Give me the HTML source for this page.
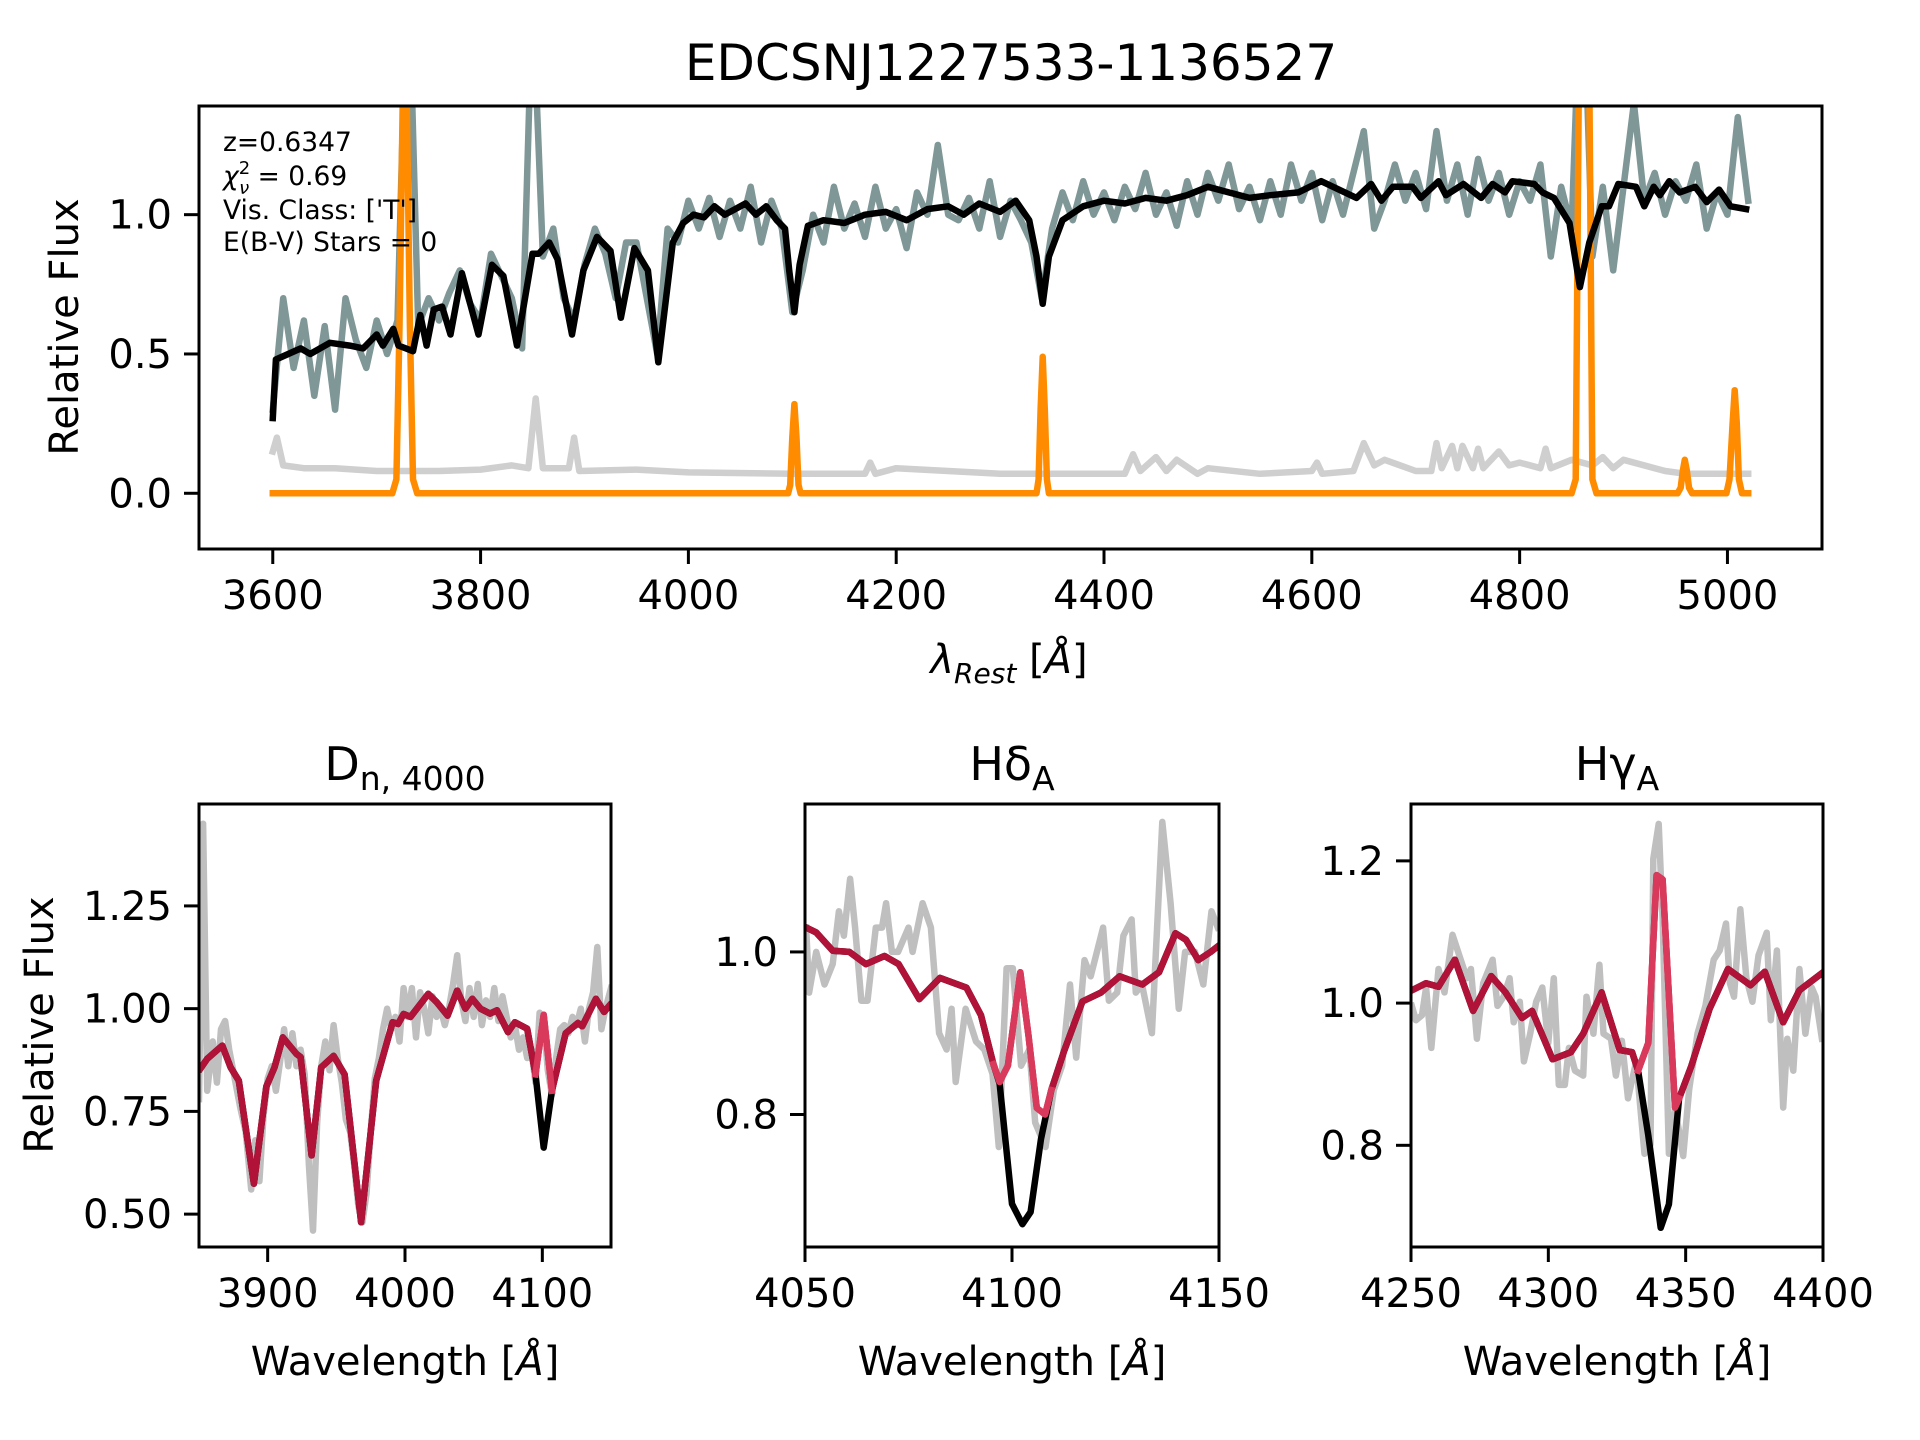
<!DOCTYPE html>
<html><head><meta charset="utf-8"><style>
html,body{margin:0;padding:0;background:#fff;}
svg{display:block;font-family:"DejaVu Sans","Liberation Sans",sans-serif;}
</style></head><body>
<svg id="fig" xmlns="http://www.w3.org/2000/svg" width="1920" height="1440" viewBox="0 0 1920 1440">
<rect width="1920" height="1440" fill="#fff"/>
<text x="1011" y="80" font-size="50" text-anchor="middle">EDCSNJ1227533-1136527</text>
</svg>
<script>
// ---------- TOP PANEL DATA ----------
const topObsStart = 3600, topObsStep = 10;
const topObsFlux = [0.30,0.70,0.45,0.62,0.35,0.60,0.30,0.70,0.55,0.45,0.62,0.50,0.62,2.0,0.60,0.70,0.62,0.72,0.80,0.68,
0.62,0.86,0.78,0.70,0.52,1.8,0.85,0.95,0.70,0.62,0.82,0.95,0.86,0.70,0.90,0.90,0.70,0.50,0.95,0.90,
1.05,0.95,1.06,0.92,1.05,0.95,1.10,0.90,1.05,0.95,0.65,0.80,1.00,0.90,1.10,0.95,1.04,0.92,1.10,0.95,
1.02,0.88,1.08,1.0,1.25,1.0,0.98,1.06,0.95,1.12,0.92,1.05,0.98,0.90,0.70,0.95,1.08,0.98,1.12,1.0,
1.08,0.98,1.10,1.02,1.15,1.0,1.08,0.96,1.12,1.0,1.15,1.05,1.18,1.02,1.10,0.98,1.12,1.0,1.18,1.05,
1.15,0.98,1.12,1.0,1.15,1.30,0.95,1.05,1.18,1.05,1.15,1.02,1.30,1.05,1.18,1.0,1.20,1.05,1.15,1.0,
1.12,1.05,1.18,0.85,1.10,0.95,2.0,0.85,1.10,0.80,1.10,1.40,1.05,1.15,1.0,1.12,1.05,1.18,0.95,1.08,
1.0,1.35,1.05];
const topModelWl = [3600,3603,3627,3636,3655,3674,3687,3700,3706,3716,3721,3728,3735,3742,3748,3755,3763,3771,3782,3798,3811,3822,3835,3850,3856,3866,3874,3888,3899,3912,3925,3935,3948,3961,3971,3985,3995,4005,4015,4025,4035,4045,4055,4065,4075,4085,4093,4097,4102,4107,4115,4130,4150,4170,4190,4210,4230,4250,4265,4280,4300,4315,4328,4335,4341,4347,4360,4380,4400,4420,4440,4460,4480,4500,4520,4540,4560,4587,4609,4643,4657,4667,4678,4697,4705,4722,4729,4746,4763,4774,4786,4793,4814,4822,4833,4848,4858,4867,4879,4886,4895,4912,4920,4929,4935,4944,4954,4969,4980,4992,5003,5018];
const topModelFlux = [0.27,0.48,0.52,0.50,0.54,0.53,0.52,0.57,0.53,0.59,0.53,0.52,0.51,0.64,0.53,0.66,0.67,0.57,0.79,0.57,0.82,0.78,0.53,0.86,0.86,0.90,0.84,0.57,0.80,0.92,0.87,0.63,0.88,0.80,0.47,0.90,0.97,1.00,0.99,1.03,1.00,1.02,1.04,1.00,1.03,0.98,0.95,0.80,0.65,0.82,0.96,0.98,0.97,1.00,1.01,0.98,1.02,1.03,1.00,1.04,1.01,1.05,0.98,0.85,0.68,0.85,0.98,1.03,1.05,1.04,1.06,1.05,1.07,1.10,1.08,1.06,1.07,1.08,1.12,1.06,1.11,1.05,1.10,1.10,1.06,1.12,1.07,1.11,1.06,1.11,1.08,1.12,1.11,1.08,1.06,0.97,0.74,0.90,1.03,1.03,1.11,1.10,1.03,1.10,1.07,1.12,1.08,1.10,1.045,1.09,1.03,1.02];
const topErrWl = [3600,3604,3610,3630,3660,3700,3760,3800,3830,3846,3853,3860,3885,3890,3895,3950,4000,4100,4170,4175,4180,4200,4300,4420,4428,4435,4450,4460,4470,4490,4500,4550,4600,4605,4610,4640,4650,4660,4670,4700,4715,4720,4725,4735,4740,4745,4755,4760,4765,4780,4790,4800,4820,4825,4830,4850,4870,4880,4890,4900,4940,4960,5000,5020];
const topErrFlux = [0.15,0.20,0.10,0.09,0.09,0.08,0.08,0.085,0.10,0.09,0.34,0.09,0.09,0.20,0.08,0.085,0.075,0.07,0.07,0.11,0.07,0.09,0.07,0.07,0.14,0.08,0.13,0.08,0.12,0.07,0.09,0.07,0.08,0.11,0.07,0.08,0.18,0.10,0.12,0.08,0.08,0.18,0.09,0.17,0.09,0.17,0.09,0.16,0.09,0.15,0.10,0.11,0.09,0.16,0.09,0.12,0.10,0.13,0.09,0.12,0.08,0.07,0.07,0.07];
const topEmWl = [3600,3715,3719,3722,3725,3727,3729,3732,3735,3739,4096,4098,4100,4102,4104,4106,4108,4335,4337,4339,4341,4343,4345,4347,4850,4854,4857,4860,4862,4864,4867,4870,4874,4952,4955,4957,4959,4961,4963,4966,4999,5002,5005,5007,5009,5011,5014,5020];
const topEmFlux = [0,0,0.05,0.6,1.4,1.6,1.4,0.6,0.05,0,0,0.03,0.2,0.32,0.2,0.03,0,0,0.05,0.3,0.49,0.3,0.05,0,0,0.05,1.5,3.0,3.2,3.0,1.5,0.05,0,0,0.02,0.08,0.12,0.08,0.02,0,0,0.05,0.25,0.37,0.25,0.05,0,0];
const topXTicks = [3600,3800,4000,4200,4400,4600,4800,5000];
const topYTicks = [0.0,0.5,1.0];
const topYTickLabels = ["0.0","0.5","1.0"];

// ---------- PANEL 1 (Dn4000) DATA ----------
const p1ObsWl = [3850,3853,3856,3860,3863,3866,3869,3872,3876,3880,3884,3888,3891,3894,3897,3900,3903,3906,3909,3912,3915,3918,3921,3924,3927,3930,3933,3936,3939,3942,3945,3948,3951,3954,3957,3960,3963,3966,3969,3972,3975,3978,3981,3984,3987,3990,3993,3996,3999,4002,4005,4008,4011,4014,4017,4020,4023,4026,4029,4032,4035,4038,4041,4044,4047,4050,4053,4056,4059,4062,4065,4068,4071,4074,4077,4080,4083,4086,4089,4092,4095,4098,4101,4104,4107,4110,4113,4116,4119,4122,4125,4128,4131,4134,4137,4140,4143,4146,4150];
const p1ObsFlux = [0.78,1.45,0.80,0.92,0.82,0.95,0.97,0.90,0.83,0.76,0.70,0.56,0.68,0.58,0.74,0.83,0.86,0.80,0.87,0.95,0.86,0.94,0.86,0.90,0.84,0.62,0.46,0.72,0.86,0.92,0.85,0.96,0.88,0.82,0.73,0.70,0.62,0.52,0.48,0.55,0.70,0.83,0.88,0.95,1.0,0.95,0.98,0.92,1.05,0.98,1.05,0.93,1.04,1.0,0.94,1.03,0.98,1.0,0.96,1.0,1.06,1.13,1.02,0.97,1.05,0.98,1.06,0.96,1.02,0.98,1.05,0.97,1.03,0.98,0.93,0.96,0.90,0.93,0.88,0.90,0.82,0.99,0.97,0.85,0.79,0.88,0.95,0.96,0.94,0.98,0.96,1.0,0.92,1.0,1.04,1.15,0.95,1.0,1.05];
const p1ModelWl = [3851,3856,3867,3873,3879,3890,3899,3905,3911,3921,3924,3932,3939,3948,3956,3968,3979,3991,3995,3999,4004,4017,4023,4031,4038,4044,4049,4055,4062,4067,4075,4080,4089,4095,4101,4107,4117,4126,4129,4139,4145,4149];
const p1ModelFlux = [0.854,0.878,0.91,0.857,0.825,0.574,0.81,0.857,0.93,0.89,0.882,0.643,0.857,0.885,0.84,0.48,0.825,0.967,0.963,0.987,0.98,1.036,1.016,0.983,1.044,1.0,1.024,1.0,0.988,0.996,0.943,0.967,0.951,0.84,0.662,0.80,0.94,0.965,0.957,1.024,0.992,1.008];
const p1EmWl = [4095,4101,4107];
const p1EmFlux = [0.84,0.985,0.80];
const p1XTicks = [3900,4000,4100];
const p1YTicks = [0.50,0.75,1.00,1.25];
const p1YTickLabels = ["0.50","0.75","1.00","1.25"];

// ---------- PANEL 2 (Hdelta) DATA ----------
const p2ObsWl = [4050.3,4051,4052.7,4054.7,4056.7,4058.2,4059.4,4060.9,4062.1,4063.6,4065.1,4067.1,4068.6,4069.6,4071,4072.5,4075,4076,4078.4,4080.4,4082.4,4084.2,4085.4,4086.4,4088.8,4091.3,4093.3,4095.3,4096.8,4098.7,4100.2,4102.2,4104.2,4105.6,4108.1,4110.1,4112.1,4114,4115.5,4117.5,4119,4122,4123.4,4125.4,4126.9,4128.9,4129.9,4131.4,4133.8,4136.3,4138.3,4140.3,4141.8,4144.2,4146.2,4148.2,4149.7];
const p2ObsFlux = [1.03,0.95,1.0,0.96,0.985,1.05,1.02,1.09,1.03,0.94,0.94,1.03,1.03,1.06,1.0,1.0,1.03,1.0,1.06,1.03,0.90,0.88,0.93,0.84,0.93,0.89,0.88,0.85,0.76,0.98,0.98,0.86,0.88,0.79,0.76,0.83,0.86,0.96,0.87,0.99,0.97,1.03,0.94,0.95,1.02,1.04,0.95,0.96,0.90,1.16,1.06,0.93,1.0,1.0,0.96,1.05,1.03];
const p2ModelWl = [4050.3,4052.7,4056.7,4060.7,4064.7,4069.2,4072.6,4077.6,4082.6,4089,4092.5,4095.5,4097,4100,4102.5,4104.5,4107,4109.5,4112.5,4117,4121.5,4126,4131.5,4135.5,4139.5,4142,4145,4148,4150.5];
const p2ModelFlux = [1.03,1.024,1.0015,1.0,0.985,0.995,0.985,0.942,0.968,0.956,0.922,0.862,0.838,0.69,0.665,0.68,0.77,0.83,0.877,0.939,0.95,0.97,0.96,0.975,1.023,1.015,0.99,1.0,1.01];
const p2EmWl = [4095.5,4097,4099,4102,4104,4106,4108,4109.5];
const p2EmFlux = [0.862,0.84,0.86,0.975,0.896,0.808,0.80,0.83];
const p2XTicks = [4050,4100,4150];
const p2YTicks = [0.8,1.0];
const p2YTickLabels = ["0.8","1.0"];

// ---------- PANEL 3 (Hgamma) DATA ----------
const p3ObsWl = [4250.3,4251.8,4254.0,4255.5,4257.4,4260.0,4262.2,4265.1,4268.1,4270.3,4271.8,4274.0,4276.3,4279.7,4281.5,4283.7,4285.9,4287.4,4289.6,4291.1,4293.4,4295.6,4297.8,4300.0,4302.0,4303.8,4306.0,4307.5,4309.7,4312.7,4313.9,4316.4,4318.6,4320.1,4322.8,4324.6,4326.8,4329.0,4332.0,4335.0,4337.2,4338.2,4340.2,4341.6,4343.9,4346.1,4349.1,4351.3,4354.3,4357.2,4360.2,4362.4,4364.7,4366.1,4367.6,4369.9,4372.1,4374.3,4376.5,4379.5,4381.0,4383.2,4385.5,4387.0,4389.2,4391.4,4393.6,4395.9,4397.3,4399.6];
const p3ObsFlux = [0.996,0.976,0.983,1.022,0.937,1.048,1.015,1.096,1.061,1.035,1.048,0.950,1.028,1.061,0.996,1.009,1.035,0.973,1.002,0.918,0.957,1.002,1.022,0.944,1.035,0.885,0.885,0.937,0.905,0.898,1.009,0.957,1.054,0.957,0.950,0.898,0.947,0.866,0.918,0.788,0.801,1.203,1.252,1.119,0.788,0.853,0.785,0.879,0.957,0.996,1.061,1.074,1.112,1.028,1.009,1.132,1.035,1.002,1.067,1.099,0.976,1.074,0.853,0.950,0.905,1.048,0.957,1.022,1.009,0.950];
const p3ModelWl = [4250.3,4255.5,4260,4266,4272.6,4279.2,4284.4,4290.4,4294.1,4301.5,4308.2,4312.7,4319.4,4326,4330.5,4332.7,4336.4,4340.9,4343.9,4347.6,4352,4358.7,4365.4,4373.6,4378.8,4385.5,4391.4,4399.6];
const p3ModelFlux = [1.018,1.028,1.023,1.061,0.989,1.038,1.015,0.979,0.989,0.921,0.931,0.957,1.015,0.934,0.931,0.905,0.814,0.684,0.717,0.866,0.911,0.992,1.048,1.025,1.044,0.973,1.018,1.042];
const p3EmWl = [4332.7,4336.4,4339.4,4341.6,4346.1,4347.6];
const p3EmFlux = [0.905,0.944,1.18,1.174,0.853,0.866];
const p3XTicks = [4250,4300,4350,4400];
const p3YTicks = [0.8,1.0,1.2];
const p3YTickLabels = ["0.8","1.0","1.2"];

// ---------- helpers ----------
const NS = "http://www.w3.org/2000/svg";
const svg = document.getElementById("fig");
const LW = 6.5;
function el(tag, attrs, parent) {
  const e = document.createElementNS(NS, tag);
  for (const k in attrs) e.setAttribute(k, attrs[k]);
  (parent || svg).appendChild(e);
  return e;
}
function makeAxes(id, box, xr, yr) {
  const sx = v => box.x0 + (v - xr[0]) / (xr[1] - xr[0]) * (box.x1 - box.x0);
  const sy = v => box.y1 - (v - yr[0]) / (yr[1] - yr[0]) * (box.y1 - box.y0);
  const cp = el("clipPath", {id: "clip-" + id});
  el("rect", {x: box.x0, y: box.y0, width: box.x1 - box.x0, height: box.y1 - box.y0}, cp);
  const g = el("g", {"clip-path": "url(#clip-" + id + ")"});
  
  
  return {sx, sy, g, box};
}
function line(ax, xs, ys, color, w, name) {
  let d = "";
  for (let i = 0; i < xs.length; i++) d += (i ? "L" : "M") + ax.sx(xs[i]).toFixed(1) + " " + ax.sy(ys[i]).toFixed(1);
  const p = el("path", {d: d, fill: "none", stroke: color, "stroke-width": w, "stroke-linejoin": "round", "stroke-linecap": "square"}, ax.g);
  
  
  return p;
}
function frame(ax, name, xt, xtl, yt, ytl) {
  const b = ax.box;
  const r = el("rect", {x: b.x0, y: b.y0, width: b.x1 - b.x0, height: b.y1 - b.y0, fill: "none", stroke: "#000", "stroke-width": 3});
  
  
  xt.forEach((v, i) => {
    const x = ax.sx(v);
    const t = el("line", {x1: x, x2: x, y1: b.y1, y2: b.y1 + 15, stroke: "#000", "stroke-width": 3});
    
    
    const lb = el("text", {x: x, y: b.y1 + 60, "font-size": 40, "text-anchor": "middle"});
    lb.textContent = xtl[i];
    
    
  });
  yt.forEach((v, i) => {
    const y = ax.sy(v);
    const t = el("line", {x1: b.x0 - 15, x2: b.x0, y1: y, y2: y, stroke: "#000", "stroke-width": 3});
    
    
    const lb = el("text", {x: b.x0 - 27, y: y + 14, "font-size": 40, "text-anchor": "end"});
    lb.textContent = ytl[i];
    
    
  });
}
function ylabel(x, y, name) {
  const t = el("text", {x: 0, y: 0, "font-size": 40, "text-anchor": "middle", transform: "translate(" + x + "," + y + ") rotate(-90)"});
  t.textContent = "Relative Flux";
  
  
}
function xlabelWave(x, name) {
  const t = el("text", {x: x, y: 1375, "font-size": 40, "text-anchor": "middle"});
  
  
  t.appendChild(document.createTextNode("Wavelength ["));
  const a = el("tspan", {"font-style": "italic"}, t); a.textContent = "Å";
  t.appendChild(document.createTextNode("]"));
}

// ---------- TOP PANEL ----------
const topAx = makeAxes("top", {x0: 199, x1: 1822, y0: 106, y1: 549}, [3529, 5091], [-0.2, 1.39]);
const topObsWl = topObsFlux.map((_, i) => topObsStart + i * topObsStep);
line(topAx, topErrWl, topErrFlux, "#cfcfcf", LW, "error-spectrum-line");
line(topAx, topObsWl, topObsFlux, "#7f9797", LW, "observed-spectrum-line");
line(topAx, topEmWl, topEmFlux, "#ff8c00", LW, "emission-model-line");
line(topAx, topModelWl, topModelFlux, "#000", LW, "best-fit-model-line");
frame(topAx, "top", topXTicks, topXTicks.map(String), topYTicks, topYTickLabels);
ylabel(78, 327, "top-y-axis-title");
{
  const t = el("text", {x: 1009, y: 673, "font-size": 40, "text-anchor": "middle"});
  
  
  const l = el("tspan", {"font-style": "italic"}, t); l.textContent = "λ";
  const s = el("tspan", {"font-style": "italic", "font-size": 28, dy: 10}, t); s.textContent = "Rest";
  const r = el("tspan", {dy: -10}, t); r.textContent = " [";
  const a = el("tspan", {"font-style": "italic"}, t); a.textContent = "Å";
  const c = el("tspan", {}, t); c.textContent = "]";
}
{
  const lines = ["z=0.6347", null, "Vis. Class: ['T']", "E(B-V) Stars = 0"];
  const ys = [151, 185, 219, 251];
  const names = ["redshift-annotation", "chi2-annotation", "vis-class-annotation", "extinction-annotation"];
  lines.forEach((s, i) => {
    const t = el("text", {x: 223, y: ys[i], "font-size": 26.5});
    
    
    if (s) t.textContent = s;
    else {
      const c = el("tspan", {"font-style": "italic"}, t); c.textContent = "χ";
      const sup = el("tspan", {"font-size": 18, dy: -11}, t); sup.textContent = "2";
      const sub = el("tspan", {"font-size": 18, "font-style": "italic", dx: -11, dy: 20}, t); sub.textContent = "ν";
      const rest = el("tspan", {dy: -9}, t); rest.textContent = " = 0.69";
    }
  });
}

// ---------- BOTTOM PANELS ----------
const BY0 = 804, BY1 = 1247;
function bottomPanel(id, x0, x1, xr, yr, obsWl, obsF, modWl, modF, emWl, emF, xt, yt, ytl) {
  const ax = makeAxes(id, {x0: x0, x1: x1, y0: BY0, y1: BY1}, xr, yr);
  line(ax, obsWl, obsF, "#bfbfbf", LW, id + "-observed-line");
  line(ax, modWl, modF, "#000", LW, id + "-model-line");
  const wl = [], fl = [];
  modWl.forEach((w, i) => { if (w < emWl[0]) { wl.push(w); fl.push(modF[i]); } });
  emWl.forEach((w, i) => { wl.push(w); fl.push(emF[i]); });
  modWl.forEach((w, i) => { if (w > emWl[emWl.length - 1]) { wl.push(w); fl.push(modF[i]); } });
  line(ax, wl, fl, "#b01238", LW, id + "-model-with-emission-line");
  line(ax, emWl, emF, "#d93a5c", LW, id + "-emission-segment");
  frame(ax, id, xt, xt.map(String), yt, ytl);
  return ax;
}
bottomPanel("dn4000", 199, 611, [3850, 4150], [0.42, 1.498], p1ObsWl, p1ObsFlux, p1ModelWl, p1ModelFlux, p1EmWl, p1EmFlux, p1XTicks, p1YTicks, p1YTickLabels);
bottomPanel("hdelta", 805, 1219, [4050, 4150], [0.637, 1.182], p2ObsWl, p2ObsFlux, p2ModelWl, p2ModelFlux, p2EmWl, p2EmFlux, p2XTicks, p2YTicks, p2YTickLabels);
bottomPanel("hgamma", 1411, 1823, [4250, 4400], [0.657, 1.28], p3ObsWl, p3ObsFlux, p3ModelWl, p3ModelFlux, p3EmWl, p3EmFlux, p3XTicks, p3YTicks, p3YTickLabels);
ylabel(53, 1025, "bottom-y-axis-title");
xlabelWave(405, "dn4000-x-axis-title");
xlabelWave(1012, "hdelta-x-axis-title");
xlabelWave(1617, "hgamma-x-axis-title");
function ptitle(x, main, sub, name) {
  const t = el("text", {x: x, y: 780, "font-size": 46, "text-anchor": "middle"});
  
  
  const m = el("tspan", {}, t); m.textContent = main;
  const s = el("tspan", {"font-size": 33, dy: 10}, t); s.textContent = sub;
}
ptitle(405, "D", "n, 4000", "dn4000-title");
ptitle(1012, "Hδ", "A", "hdelta-title");
ptitle(1617, "Hγ", "A", "hgamma-title");
</script>
</body></html>
